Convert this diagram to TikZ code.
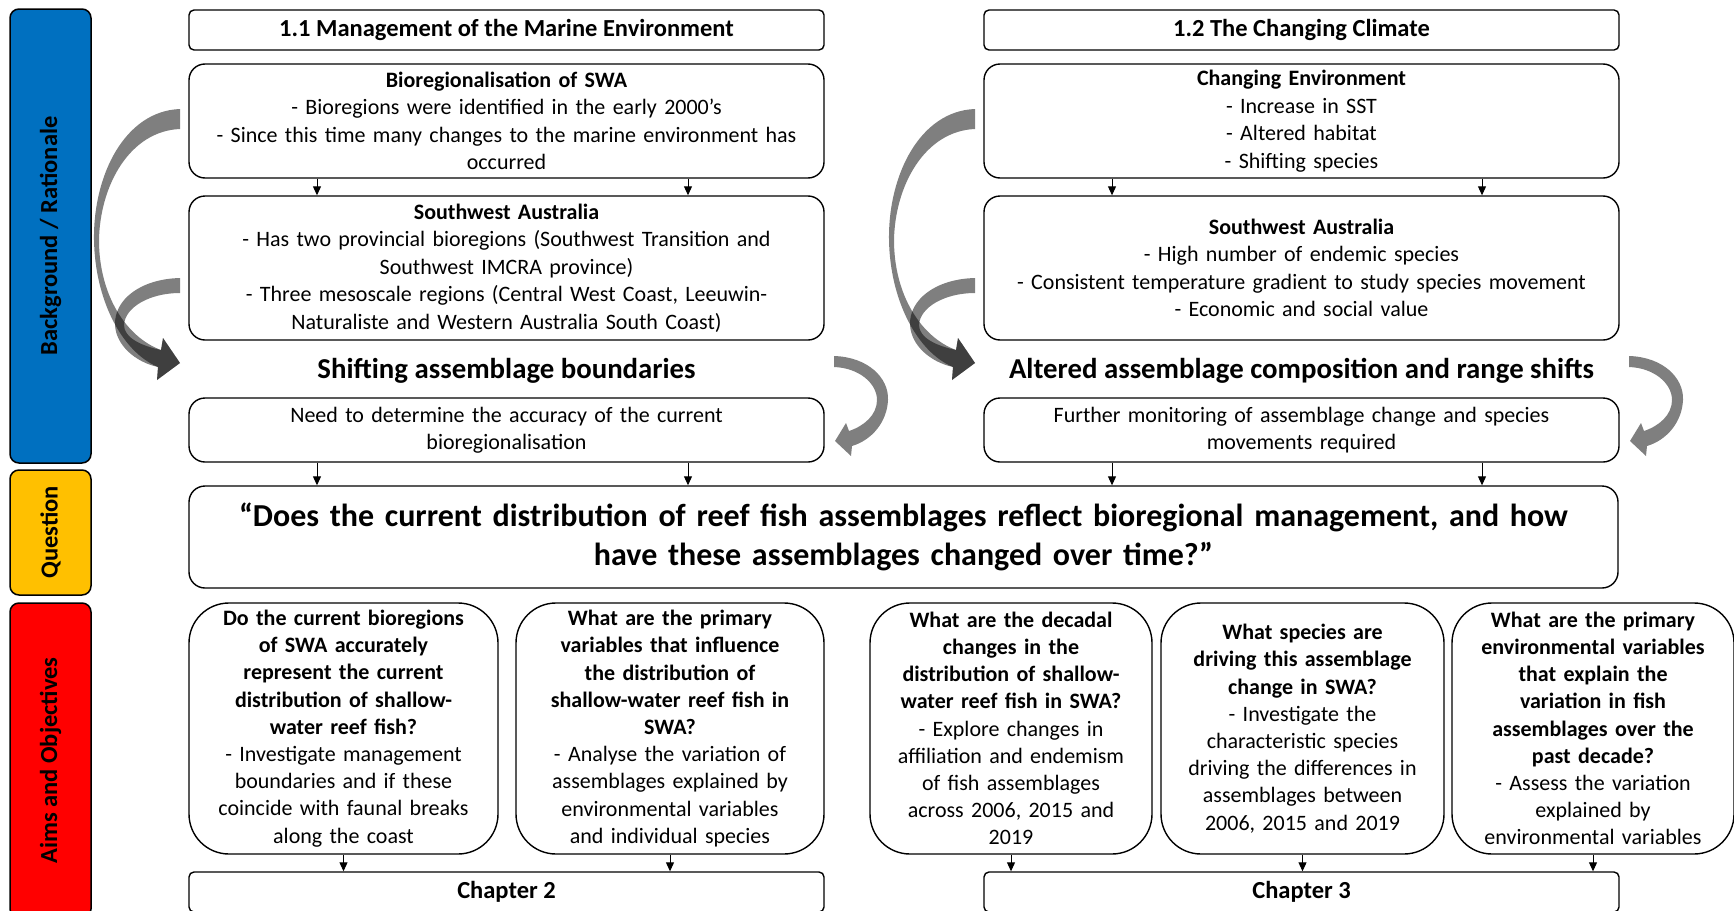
\documentclass[tikz,border=0pt]{standalone}
\usepackage{fontspec}
\setmainfont{Carlito}
\usetikzlibrary{arrows.meta, calc}
\definecolor{barblue}{RGB}{0, 112, 192}
\definecolor{baryellow}{RGB}{255, 192, 0}
\definecolor{barred}{RGB}{255, 0, 0}

\begin{document}
\begin{tikzpicture}[x=1pt, y=-1pt,
    sidebar/.style={draw=black, line width=1.5pt, rounded corners=9pt, rotate=90, minimum height=81pt, inner sep=0pt, font=\fontsize{24.5}{28}\selectfont\bfseries},
    header/.style={draw=black, line width=1.4pt, rounded corners=5pt, minimum width=635pt, minimum height=40pt, inner sep=0pt, font=\fontsize{24.5}{28}\selectfont\bfseries},
    infobox/.style={draw=black, line width=1.4pt, rounded corners=16pt, minimum width=635pt, text width=626pt, align=center, inner sep=2pt, font=\fontsize{22}{27.5}\selectfont},
    aimbox/.style={draw=black, line width=1.4pt, rounded corners=40pt, minimum height=251pt, text width=278pt, align=center, inner sep=2pt, font=\fontsize{22}{27.2}\selectfont},
    subtitle/.style={font=\fontsize{28.8}{32}\selectfont\bfseries},
    conn/.style={line width=1pt, -{Triangle[length=9pt, width=8pt]}},
    ribbon/.style={fill=black, fill opacity=0.5}
]
\useasboundingbox (0,0) rectangle (1734,910);

% Side bars
\node[sidebar, fill=barblue, minimum width=454pt] (bgbar) at (50.5,236) {Background / Rationale};
\node[sidebar, fill=baryellow, minimum width=125pt] (qbar) at (50.5,532.5) {Question};
\node[sidebar, fill=barred, minimum width=315pt] (aimbar) at (50.5,760.5) {Aims and Objectives};

% Research question
\node[infobox, minimum width=1429pt, text width=1420pt, minimum height=102pt, font=\fontsize{32}{38.7}\selectfont\bfseries] (quest) at (903.5,537) {“Does the current distribution of reef fish assemblages reflect bioregional management, and how\\ have these assemblages changed over time?”};

% Management (left)
\begin{scope}
    \node[header] (hdrA) at (506.5,30) {1.1 Management of the Marine Environment};
    \node[infobox, minimum height=114pt] (bioA) at (506.5,121) {{\bfseries Bioregionalisation of SWA}\\
        - Bioregions were identified in the early 2000's\\
        - Since this time many changes to the marine environment has\\
        occurred};
    \node[infobox, minimum height=144pt] (swaA) at (506.5,268) {{\bfseries Southwest Australia}\\
        - Has two provincial bioregions (Southwest Transition and\\
        Southwest IMCRA province)\\
        - Three mesoscale regions (Central West Coast, Leeuwin-\\
        Naturaliste and Western Australia South Coast)};
    \node[subtitle] (shiftA) at (506.5,371) {Shifting assemblage boundaries};
    \node[infobox, minimum height=64pt] (needA) at (506.5,430) {Need to determine the accuracy of the current\\ bioregionalisation};

    \coordinate (la) at (317,0);
    \coordinate (lb) at (688,0);
    \draw[conn] (bioA.south -| la) -- (swaA.north -| la);
    \draw[conn] (bioA.south -| lb) -- (swaA.north -| lb);
    \draw[conn] (needA.south -| la) -- (quest.north -| la);
    \draw[conn] (needA.south -| lb) -- (quest.north -| lb);

    \fill[ribbon] (180,109) .. controls (125,111) and (93,175) .. (94,240)
        .. controls (95,300) and (122,352) .. (158,367)
        -- (157,380) -- (180,363) -- (163,338) -- (161,350)
        .. controls (126,337) and (99,295) .. (99,240)
        .. controls (100,185) and (130,131) .. (180,129) -- cycle;
    \fill[ribbon] (180,278) .. controls (140,279) and (114,300) .. (115,325)
        .. controls (116,345) and (135,362) .. (158,367)
        -- (157,380) -- (180,363) -- (163,338) -- (161,350)
        .. controls (142,346) and (124,338) .. (124,325)
        .. controls (125,307) and (150,293) .. (180,293) -- cycle;
    \fill[ribbon] (834,356) .. controls (868,357) and (889,378) .. (888,400)
        .. controls (887,422) and (872,440) .. (852,446)
        -- (851,456) -- (835,441) -- (846,423) -- (849,431)
        .. controls (864,426) and (877,415) .. (877,400)
        .. controls (877,384) and (860,368) .. (834,367) -- cycle;
\end{scope}

% Climate (right)
\begin{scope}[shift={(795,0)}]
    \node[header] (hdrB) at (506.5,30) {1.2 The Changing Climate};
    \node[infobox, minimum height=114pt] (bioB) at (506.5,121) {{\bfseries Changing Environment}\\
        - Increase in SST\\
        - Altered habitat\\
        - Shifting species};
    \node[infobox, minimum height=144pt] (swaB) at (506.5,268) {{\bfseries Southwest Australia}\\
        - High number of endemic species\\
        - Consistent temperature gradient to study species movement\\
        - Economic and social value};
    \node[subtitle] (shiftB) at (506.5,371) {Altered assemblage composition and range shifts};
    \node[infobox, minimum height=64pt] (needB) at (506.5,430) {Further monitoring of assemblage change and species\\ movements required};

    \coordinate (ra) at (317,0);
    \coordinate (rb) at (687,0);
    \draw[conn] (bioB.south -| ra) -- (swaB.north -| ra);
    \draw[conn] (bioB.south -| rb) -- (swaB.north -| rb);
    \draw[conn] (needB.south -| ra) -- (quest.north -| ra);
    \draw[conn] (needB.south -| rb) -- (quest.north -| rb);

    \fill[ribbon] (180,109) .. controls (125,111) and (93,175) .. (94,240)
        .. controls (95,300) and (122,352) .. (158,367)
        -- (157,380) -- (180,363) -- (163,338) -- (161,350)
        .. controls (126,337) and (99,295) .. (99,240)
        .. controls (100,185) and (130,131) .. (180,129) -- cycle;
    \fill[ribbon] (180,278) .. controls (140,279) and (114,300) .. (115,325)
        .. controls (116,345) and (135,362) .. (158,367)
        -- (157,380) -- (180,363) -- (163,338) -- (161,350)
        .. controls (142,346) and (124,338) .. (124,325)
        .. controls (125,307) and (150,293) .. (180,293) -- cycle;
    \fill[ribbon] (834,356) .. controls (868,357) and (889,378) .. (888,400)
        .. controls (887,422) and (872,440) .. (852,446)
        -- (851,456) -- (835,441) -- (846,423) -- (849,431)
        .. controls (864,426) and (877,415) .. (877,400)
        .. controls (877,384) and (860,368) .. (834,367) -- cycle;
\end{scope}

% Aims and objectives
\node[aimbox, minimum width=309pt] (aimA) at (343.5,728.5) {{\bfseries Do the current bioregions\\ of SWA accurately\\ represent the current\\ distribution of shallow-\\ water reef fish?}\\
    - Investigate management\\ boundaries and if these\\ coincide with faunal breaks\\ along the coast};
\node[aimbox, minimum width=308pt] (aimB) at (670,728.5) {{\bfseries What are the primary\\ variables that influence\\ the distribution of\\ shallow-water reef fish in\\ SWA?}\\
    - Analyse the variation of\\ assemblages explained by\\ environmental variables\\ and individual species};
\node[aimbox, minimum width=282pt] (aimC) at (1011,728.5) {{\bfseries What are the decadal\\ changes in the\\ distribution of shallow-\\ water reef fish in SWA?}\\
    - Explore changes in\\ affiliation and endemism\\ of fish assemblages\\ across 2006, 2015 and\\ 2019};
\node[aimbox, minimum width=283pt] (aimD) at (1302.5,728.5) {{\bfseries What species are\\ driving this assemblage\\ change in SWA?}\\
    - Investigate the\\ characteristic species\\ driving the differences in\\ assemblages between\\ 2006, 2015 and 2019};
\node[aimbox, minimum width=282pt] (aimE) at (1593,728.5) {{\bfseries What are the primary\\ environmental variables\\ that explain the\\ variation in fish\\ assemblages over the\\ past decade?}\\
    - Assess the variation\\ explained by\\ environmental variables};

\node[header, minimum height=40pt] (ch2) at (506.5,892) {Chapter 2};
\node[header, minimum height=40pt] (ch3) at (1301.5,892) {Chapter 3};

\draw[conn] (aimA) -- (aimA |- ch2.north);
\draw[conn] (aimB) -- (aimB |- ch2.north);
\draw[conn] (aimC) -- (aimC |- ch3.north);
\draw[conn] (aimD) -- (aimD |- ch3.north);
\draw[conn] (aimE) -- (aimE |- ch3.north);

\end{tikzpicture}
\end{document}
